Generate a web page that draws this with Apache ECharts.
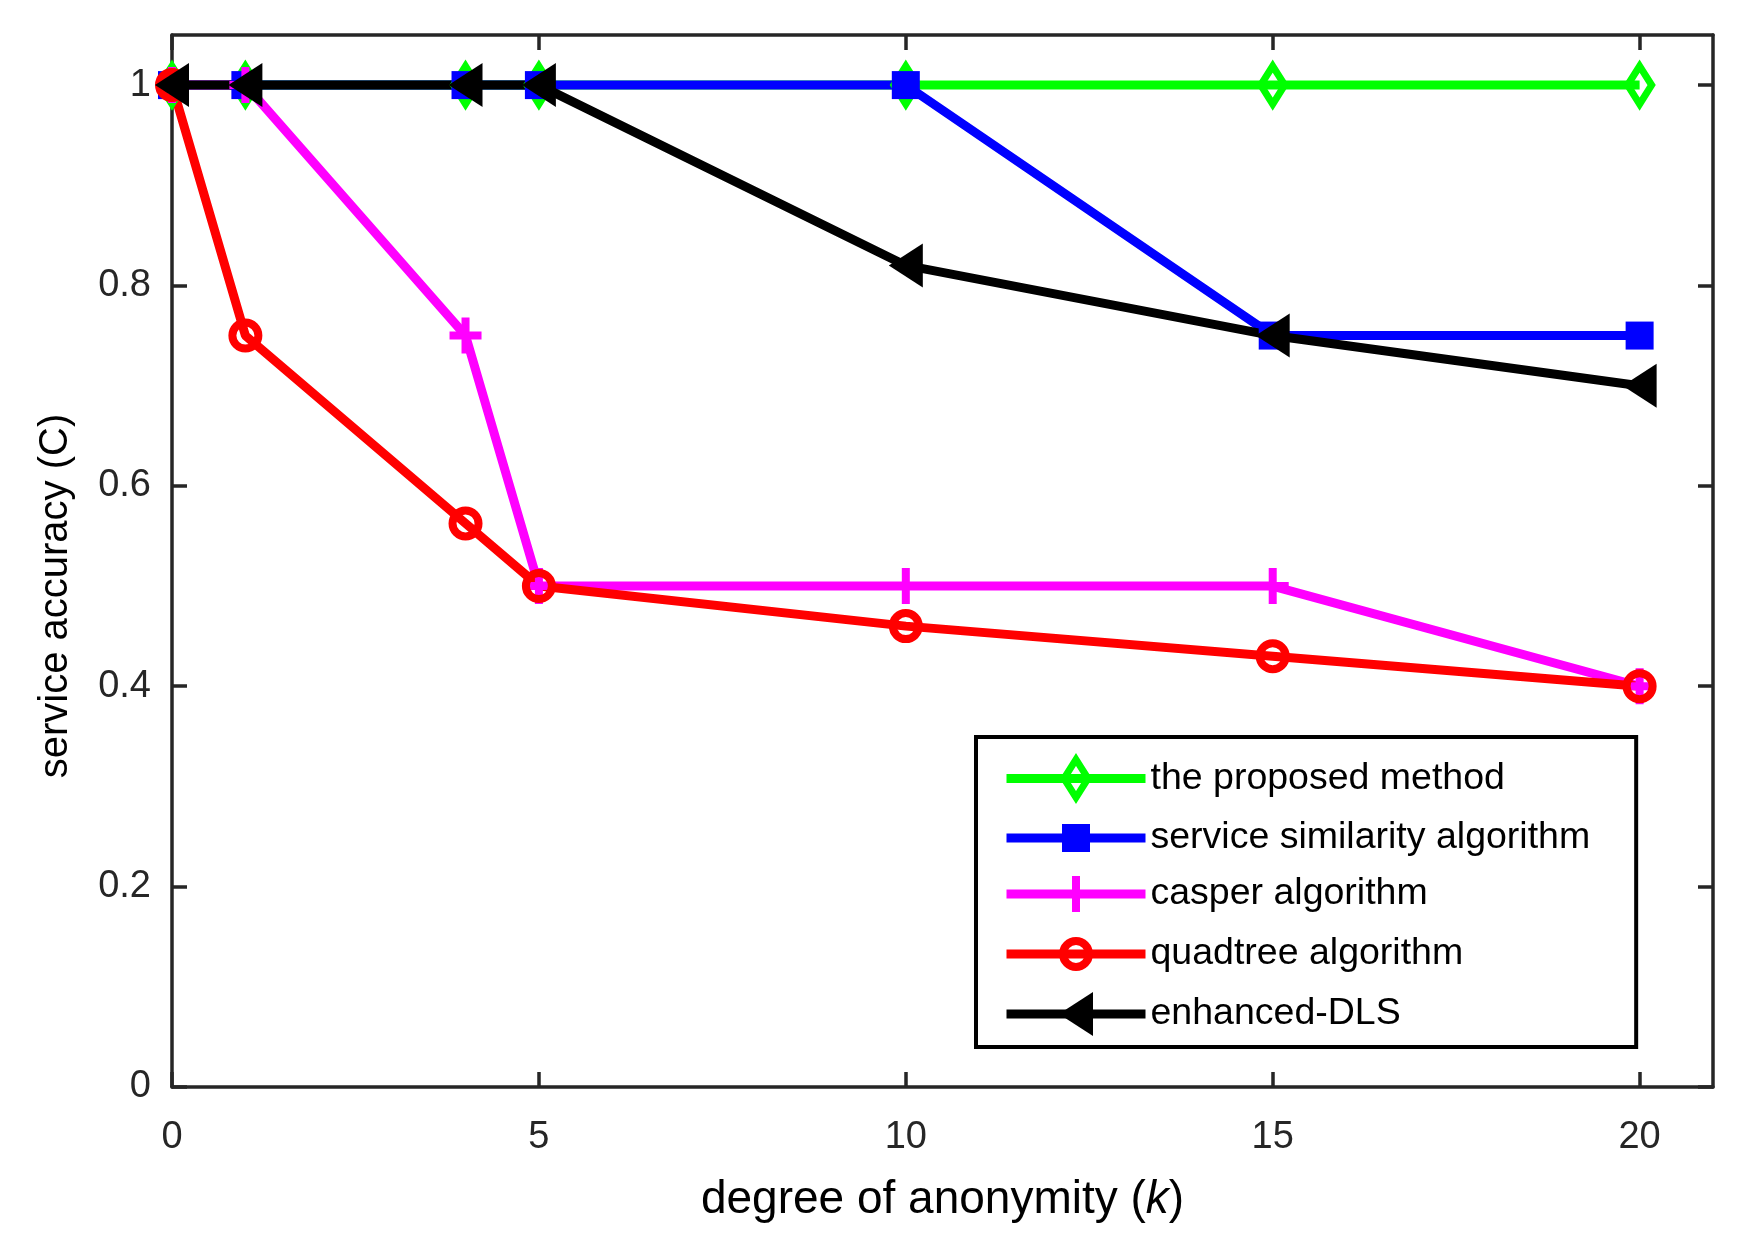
<!DOCTYPE html>
<html>
<head>
<meta charset="utf-8">
<title>service accuracy</title>
<script src="https://cdn.jsdelivr.net/npm/echarts@6/dist/echarts.min.js"></script>
<style>
  html, body { margin: 0; padding: 0; background: #fff; }
  #chart { width: 1762px; height: 1255px; }
</style>
</head>
<body>
<div id="chart"></div>
<script>
// data
var kValues = [0, 1, 4, 5, 10, 15, 20];
var proposed = [1, 1, 1, 1, 1, 1, 1];
var similarity = [1, 1, 1, 1, 1, 0.75, 0.75];
var casper = [1, 1, 0.75, 0.5, 0.5, 0.5, 0.4];
var quadtree = [1, 0.75, 0.5625, 0.5, 0.46, 0.43, 0.4];
var enhancedDLS = [1, 1, 1, 1, 0.82, 0.75, 0.7];

var xTicks = [0, 5, 10, 15, 20];
var yTicks = [0, 0.2, 0.4, 0.6, 0.8, 1];

var names = ['the proposed method', 'service similarity algorithm', 'casper algorithm', 'quadtree algorithm', 'enhanced-DLS'];

var FONT = 'Liberation Sans, Arial, Helvetica, sans-serif';
var AXIS_COLOR = '#262626';

// every marker shares the same 44px frame so legend and plot markers keep their size
var FRAME = 'M-22,-22M22,22';
var marks = {
  diamond: 'path://' + FRAME + 'M0,-19L12,0L0,19L-12,0Z',
  square: 'path://' + FRAME + 'M-14,-14L14,-14L14,14L-14,14Z',
  plus: 'path://' + FRAME + 'M-4,-18L4,-18L4,-4L16,-4L16,4L4,4L4,18L-4,18L-4,4L-16,4L-16,-4L-4,-4Z',
  circle: 'path://' + FRAME + 'M13,0A13,13,0,1,1,-13,0A13,13,0,1,1,13,0Z',
  triangle: 'path://' + FRAME + 'M-17,0L17,-22L17,22Z'
};

function pairs(ys) {
  return kValues.map(function(k, i) { return [k, ys[i]]; });
}

function line(name, ys, color, symbol, fill, border) {
  return {
    name: name,
    type: 'line',
    xAxisIndex: 0,
    yAxisIndex: 0,
    data: pairs(ys),
    symbol: symbol,
    symbolSize: 44,
    showAllSymbol: true,
    lineStyle: { color: color, width: 9 },
    itemStyle: {
      color: fill,
      borderColor: color,
      borderWidth: border
    },
    emphasis: { disabled: true }
  };
}

function sideAxis(pos, min, max, ticks) {
  return {
    type: 'value',
    position: pos,
    min: min,
    max: max,
    axisLine: { show: true, onZero: false, lineStyle: { color: AXIS_COLOR, width: 3.5 } },
    axisTick: { show: true, inside: true, length: 15, customValues: ticks, lineStyle: { color: AXIS_COLOR, width: 3.5 } },
    axisLabel: { show: false },
    splitLine: { show: false }
  };
}

var chart = echarts.init(document.getElementById('chart'));
chart.setOption({
  animation: false,
  backgroundColor: '#fff',
  grid: { left: 172, right: 49, top: 35, bottom: 168, containLabel: false },
  xAxis: [{
    type: 'value',
    min: 0,
    max: 21,
    name: 'degree of anonymity ({k|k})',
    nameLocation: 'middle',
    nameGap: 90,
    nameTextStyle: {
      fontFamily: FONT, fontSize: 46, color: '#000',
      rich: { k: { fontFamily: FONT, fontSize: 46, fontStyle: 'italic', color: '#000' } }
    },
    axisLine: { show: true, onZero: false, lineStyle: { color: AXIS_COLOR, width: 3.5 } },
    axisTick: { show: true, inside: true, length: 15, customValues: xTicks, lineStyle: { color: AXIS_COLOR, width: 3.5 } },
    axisLabel: { customValues: xTicks, margin: 32, fontFamily: FONT, fontSize: 38, color: AXIS_COLOR },
    splitLine: { show: false }
  }, sideAxis('top', 0, 21, xTicks)],
  yAxis: [{
    type: 'value',
    min: 0,
    max: 1.05,
    name: 'service accuracy (C)',
    nameLocation: 'middle',
    nameGap: 96,
    nameTextStyle: { fontFamily: FONT, fontSize: 40, color: '#000', padding: [0, 70, 0, 0] },
    axisLine: { show: true, onZero: false, lineStyle: { color: AXIS_COLOR, width: 3.5 } },
    axisTick: { show: true, inside: true, length: 15, customValues: yTicks, lineStyle: { color: AXIS_COLOR, width: 3.5 } },
    axisLabel: { customValues: yTicks, margin: 21, fontFamily: FONT, fontSize: 38, color: AXIS_COLOR },
    splitLine: { show: false }
  }, sideAxis('right', 0, 1.05, yTicks)],
  legend: {
    data: names,
    orient: 'vertical',
    left: 976,
    top: 737,
    itemWidth: 139,
    itemHeight: 55,
    itemGap: 12,
    padding: [16, 46, 11, 26],
    borderColor: '#000',
    borderWidth: 4,
    backgroundColor: '#fff',
    selectedMode: false,
    itemStyle: { borderWidth: 'inherit' },
    lineStyle: { width: 9 },
    textStyle: { fontFamily: FONT, fontSize: 37.5, color: '#000' }
  },
  series: [
    line(names[0], proposed, '#00ff00', marks.diamond, 'rgba(0,0,0,0)', 7),
    line(names[1], similarity, '#0000ff', marks.square, '#0000ff', 0),
    line(names[2], casper, '#ff00ff', marks.plus, '#ff00ff', 0),
    line(names[3], quadtree, '#ff0000', marks.circle, 'rgba(0,0,0,0)', 8),
    line(names[4], enhancedDLS, '#000000', marks.triangle, '#000000', 0)
  ]
});
</script>
</body>
</html>
